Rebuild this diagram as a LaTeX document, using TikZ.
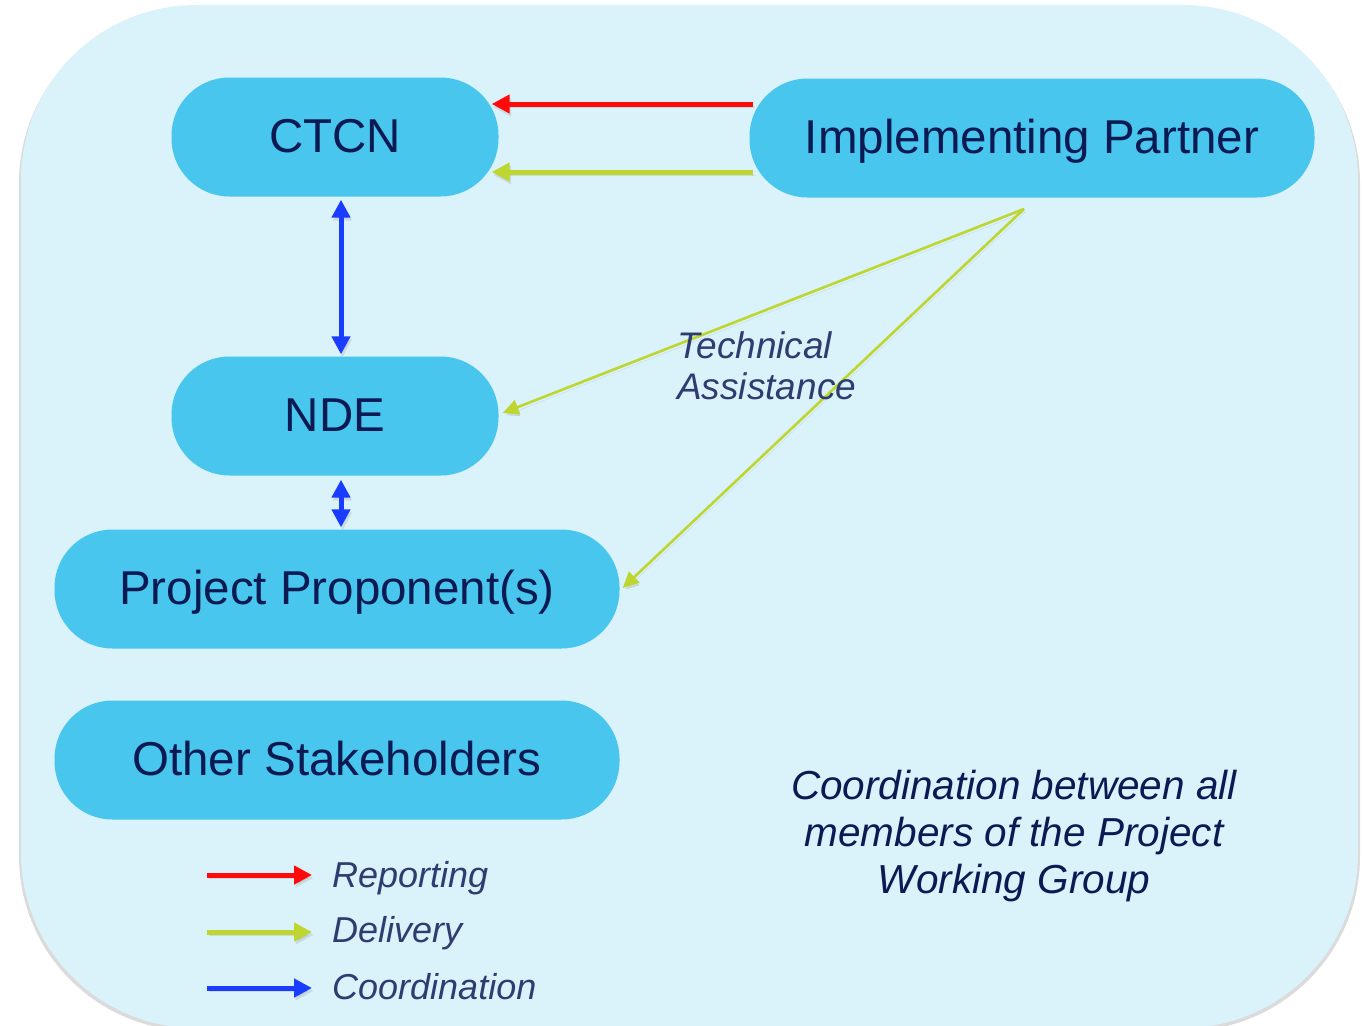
\documentclass[tikz,border=0pt]{standalone}
\usepackage{fontspec}
\setmainfont{Liberation Sans}
\usetikzlibrary{arrows.meta}

\begin{document}
\begin{tikzpicture}[x=1pt,y=-1pt,line join=round]
	\definecolor{panel}{HTML}{DAF2FA}
	\definecolor{box}{HTML}{48C6ED}
	\definecolor{ink}{HTML}{0C1A53}
	\definecolor{soft ink}{HTML}{2F3C70}
	\definecolor{report}{HTML}{FF0A0A}
	\definecolor{deliver}{HTML}{BED62F}
	\definecolor{coord}{HTML}{1A3CFF}
	\tikzset{pill/.style={fill=box, rounded corners=58pt, minimum height=119pt, inner sep=0pt,
		text height=31pt, text depth=0pt, text=ink, font=\fontsize{47.5}{52}\selectfont},
	shade/.style={preaction={draw=black!50, opacity=0.2, transform canvas={shift={(1.5pt,-3pt)}}}},
	head/.style={arrows={-Triangle[length=18pt,width=18pt]}},
	reporting/.style={draw=report, line width=5pt, head, shade},
	delivery/.style={draw=deliver, line width=5pt, head, shade},
	assist/.style={draw=deliver, line width=2.6pt, arrows={-Triangle[length=16pt,width=15pt]}, shade},
	coordination/.style={draw=coord, line width=5pt, arrows={Triangle[length=18pt,width=18pt]-Triangle[length=18pt,width=18pt]}, shade},
	key/.style={anchor=base west, inner sep=0pt, text=soft ink, font=\fontsize{36}{40}\selectfont\itshape}}
	\useasboundingbox (0,0) rectangle (1362,1025);
	\begin{scope}
		\clip (0,0) rectangle (1362,1025);
		\fill[black!14, rounded corners=175pt] (19,8) rectangle (1360,1031);
		\fill[panel, rounded corners=175pt] (21,5) rectangle (1358,1028);
	\end{scope}
	\node[pill, minimum width=327pt] (ctcn) at (335,137) {CTCN};
	\node[pill, minimum width=565pt] (partner) at (1032,138) {Implementing Partner};
	\node[pill, minimum width=327pt] (nde) at (335,416) {NDE};
	\node[pill, minimum width=565pt] (proponent) at (337,589) {Project Proponent(s)};
	\node[pill, minimum width=565pt] (others) at (337,760) {Other Stakeholders};
	%
	\coordinate (fork) at (1024,209);
	\draw[reporting] ([shift={(4pt,34pt)}]partner.west) -- ([shift={(-7pt,33pt)}]ctcn.east);
	\draw[delivery] ([shift={(4pt,-34pt)}]partner.west) -- ([shift={(-7pt,-35pt)}]ctcn.east);
	\draw[coordination] ([shift={(6pt,-3pt)}]ctcn.south) -- ([shift={(6pt,2pt)}]nde.north);
	\draw[coordination] ([shift={(6pt,-4pt)}]nde.south) -- ([shift={(4pt,2pt)}]proponent.north);
	\draw[assist] (fork) -- ([shift={(4pt,3pt)}]nde.east);
	\draw[assist] (fork) -- ([shift={(3pt,1pt)}]proponent.east);
	\node[anchor=base west, align=left, inner sep=0pt, text=soft ink,
	font=\fontsize{37}{41}\selectfont\itshape] (help) at (677,399) {Technical\\Assistance};
	\node[anchor=base, align=center, inner sep=0pt, text=ink,
	font=\fontsize{40.5}{47}\selectfont\itshape] (group) at (1014,893)
	{Coordination between all\\members of the Project\\Working Group};
	%
	\node[key] (rep) at (332,887) {Reporting};
	\node[key] (del) at (332,942) {Delivery};
	\node[key] (coo) at (332,999) {Coordination};
	\draw[reporting] ([shift={(-125pt,12pt)}]rep.base west) -- ([shift={(-20pt,12pt)}]rep.base west);
	\draw[delivery] ([shift={(-125pt,10pt)}]del.base west) -- ([shift={(-20pt,10pt)}]del.base west);
	\draw[coordination, head] ([shift={(-125pt,11pt)}]coo.base west) -- ([shift={(-20pt,11pt)}]coo.base west);
\end{tikzpicture}
\end{document}
